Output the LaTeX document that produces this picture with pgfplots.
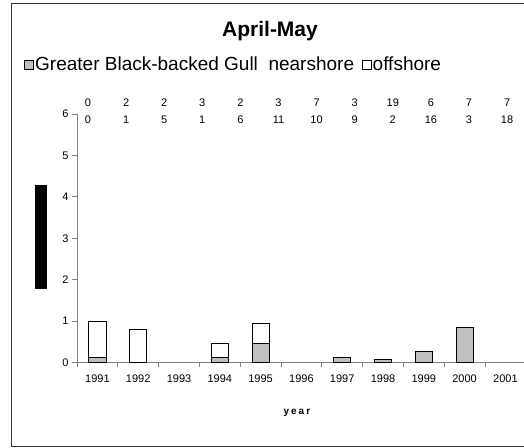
\documentclass[border=0pt]{standalone}
\usepackage{pgfplots}
\pgfplotsset{compat=1.18}
\usepackage{fontspec}
\setmainfont{Liberation Sans}
\newfontfamily\spaced[LetterSpace=20]{Liberation Sans}
\definecolor{barfill}{HTML}{C0C0C0}
\definecolor{axisgray}{HTML}{808080}

\begin{document}
\begin{tikzpicture}[x=1bp,y=1bp]
\useasboundingbox (0,0) rectangle (524,448);
% chart frame
\draw[black!80, line width=0.8bp] (11,2) rectangle (540,445);
\node[font=\fontsize{21bp}{24bp}\selectfont\bfseries, anchor=base] at (270,411.3) {April-May};
% y label rendered as a black block in the source
\fill[black] (35,158.7) rectangle (46.7,263);
% sample sizes above the plot
\foreach \n [count=\i from 0] in {0,2,2,3,2,3,7,3,19,6,7,7}
  \node[font=\fontsize{11bp}{12bp}\selectfont] at (88+38.1*\i,345) {\n};
\foreach \n [count=\i from 0] in {0,1,5,1,6,11,10,9,2,16,3,18}
  \node[font=\fontsize{11bp}{12bp}\selectfont] at (88+38.1*\i,328) {\n};

\begin{axis}[
    at={(77bp,85.5bp)}, anchor=south west,
    scale only axis, width=448.8bp, height=248.4bp,
    xmin=-0.5, xmax=10.5, ymin=0, ymax=6,
    ybar stacked, bar width=0.42,
    axis x line*=bottom, axis y line*=left,
    axis line style={-, draw=axisgray, line width=0.8bp},
    tick align=outside,
    major tick length=5bp, minor tick length=5bp,
    xtick={0,...,10},
    xticklabels={1991,1992,1993,1994,1995,1996,1997,1998,1999,2000,2001},
    minor xtick={-0.5,0.5,...,10.5},
    major x tick style={draw=none},
    minor x tick style={draw=axisgray, line width=0.8bp},
    ytick={0,...,6},
    y tick style={draw=axisgray, line width=0.8bp},
    /pgf/number format/assume math mode=true,
    ticklabel style={font=\fontsize{11bp}{12bp}\selectfont},
    xticklabel style={yshift=-4bp},
    xlabel={year},
    xlabel style={font=\spaced\bfseries\fontsize{10bp}{12bp}\selectfont,
      at={(rel axis cs:0.49,0)}, anchor=center, yshift=-50.5bp},
    legend columns=2,
    legend style={draw=none, fill=none, at={(rel axis cs:-0.125,1.2)}, anchor=west,
      font=\fontsize{19bp}{22bp}\selectfont,
      nodes={inner sep=1.5bp},
      /tikz/every even column/.append style={column sep=6bp}},
    legend image code/.code={\draw[#1, line width=0.6bp] (0bp,-5bp) rectangle (9bp,4.5bp);},
]
\addplot[fill=barfill, draw=black, line width=0.8bp] coordinates {
  (0,0.13) (1,0) (2,0) (3,0.13) (4,0.46) (5,0) (6,0.13) (7,0.08) (8,0.26) (9,0.85) (10,0)};
\addplot[fill=white, draw=black, line width=0.8bp] coordinates {
  (0,0.87) (1,0.80) (2,0) (3,0.33) (4,0.49) (5,0) (6,0) (7,0) (8,0) (9,0) (10,0)};
\legend{Greater Black-backed Gull\ \ nearshore, offshore}
\end{axis}
\end{tikzpicture}
\end{document}
